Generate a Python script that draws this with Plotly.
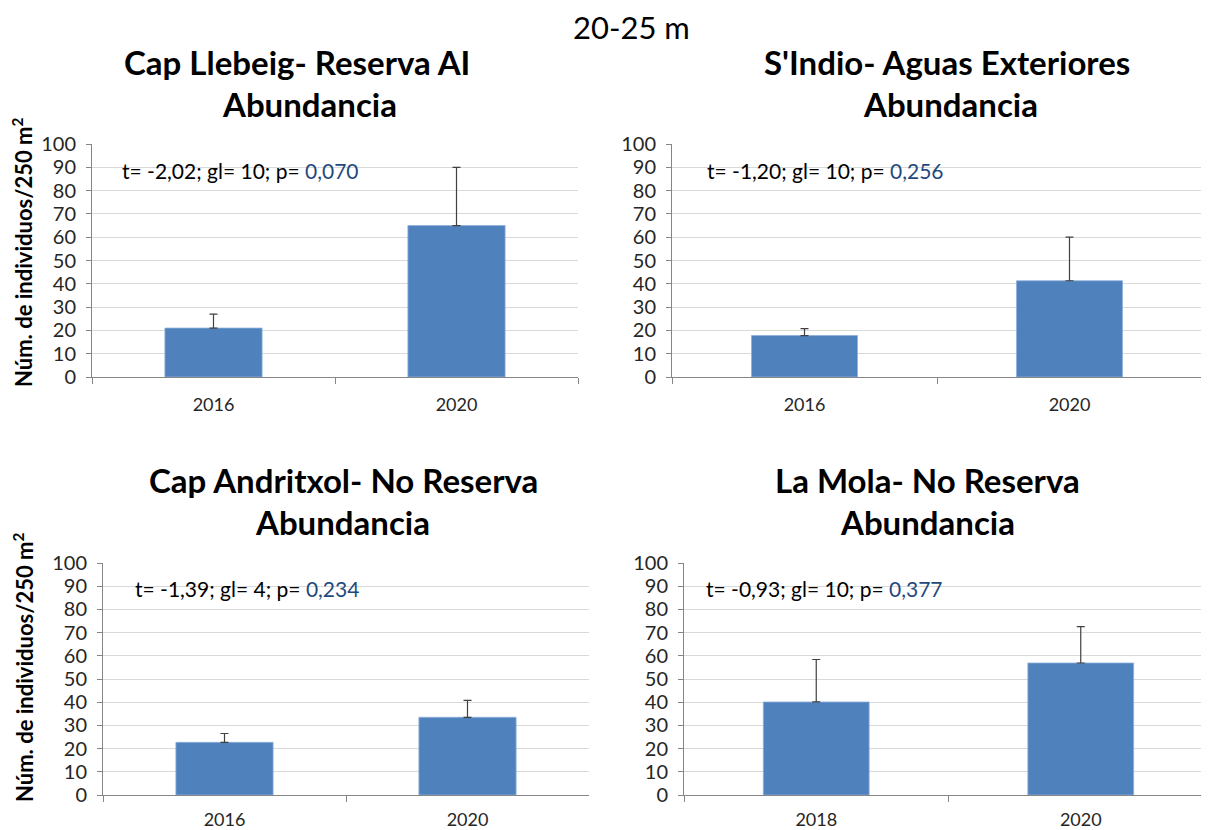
"""
Abundancia 20-25 m: cuatro paneles de barras con error (2016/2018 vs 2020)
"""

import plotly.graph_objects as go
from plotly.subplots import make_subplots

# Datos
sites = ["Cap Llebeig- Reserva AI", "S'Indio- Aguas Exteriores",
         "Cap Andritxol- No Reserva", "La Mola- No Reserva"]
years = [["2016", "2020"], ["2016", "2020"], ["2016", "2020"], ["2018", "2020"]]
means = [[21.0, 65.0], [17.8, 41.3], [22.7, 33.5], [40.1, 56.9]]
errors = [[6.0, 25.0], [3.0, 18.7], [3.8, 7.3], [18.3, 15.7]]
t_vals = ["-2,02", "-1,20", "-1,39", "-0,93"]
gl_vals = ["10", "10", "4", "10"]
p_vals = ["0,070", "0,256", "0,234", "0,377"]

W, H = 1209, 830
OFF = 8  # margen del body de la página html
FONT = "Lato, sans-serif"
BAR = "#4F81BD"
PBLUE = "#1F497D"


def px(x):
    return (x - OFF) / W


def py(y):
    return 1 - (y - OFF) / H


# posiciones en píxeles de pantalla (izq, der, arriba(100), abajo(0))
boxes = [(92, 578, 144, 377), (672, 1202, 144, 377),
         (103, 589, 563, 795), (684, 1213, 563, 795)]
# (x línea 1, y línea 1, x línea 2, y línea 2)
title_pos = [(297, 62, 309, 104), (947, 62, 950, 104),
             (343, 480, 342, 522), (927, 480, 927, 522)]
stat_x = [120, 705, 133, 704]
xlab_standoff = [11, 11, 8, 8]
ylab_y = [252, 667]

fig = make_subplots(rows=2, cols=2)

for i in range(4):
    r, c = i // 2 + 1, i % 2 + 1
    fig.add_trace(go.Bar(
        x=years[i], y=means[i], width=0.4,
        marker=dict(color=BAR, line=dict(color="#8DB0DA", width=0.8)),
        error_y=dict(type="data", symmetric=False, array=errors[i],
                     arrayminus=[0, 0], color="#404040", thickness=1.2, width=4),
        showlegend=False,
    ), row=r, col=c)

    x0, x1, yt, yb = boxes[i]
    ax = "xaxis" if i == 0 else f"xaxis{i + 1}"
    ay = "yaxis" if i == 0 else f"yaxis{i + 1}"
    fig.layout[ax].update(
        domain=[px(x0), min(px(x1), 1)], range=[-0.5, 1.5], type="category",
        showline=True, linecolor="#868686", linewidth=1,
        ticks="outside", tickson="boundaries", ticklen=6, tickcolor="#868686",
        showgrid=False, tickfont=dict(family=FONT, size=18, color="#262626"),
        ticklabelstandoff=xlab_standoff[i],
    )
    fig.layout[ay].update(
        domain=[py(yb), py(yt)], range=[0, 100], dtick=10,
        showline=True, linecolor="#868686", linewidth=1,
        ticks="outside", ticklen=5, tickcolor="#868686",
        showgrid=True, gridcolor="#D9D9D9", gridwidth=1, zeroline=False,
        tickfont=dict(family=FONT, size=20, color="#262626"),
        ticklabelstandoff=6,
    )

    # título de cada panel (dos líneas)
    tx1, ty1, tx2, ty2 = title_pos[i]
    for txt, tx, ty in ((sites[i], tx1, ty1), ("Abundancia", tx2, ty2)):
        fig.add_annotation(
            x=px(tx), y=py(ty), xref="paper", yref="paper",
            text=f"<b>{txt}</b>", showarrow=False,
            font=dict(family=FONT, size=33, color="black"),
            xanchor="center", yanchor="middle",
        )

    # estadístico de la prueba t
    fig.add_annotation(
        x=px(stat_x[i]), y=88.8, xref="paper", yref="y" if i == 0 else f"y{i + 1}",
        text=f"t= {t_vals[i]}; gl= {gl_vals[i]}; p= <span style='color:{PBLUE}'>{p_vals[i]}</span>",
        showarrow=False, font=dict(family=FONT, size=21, color="black"),
        xanchor="left", yanchor="middle",
    )

# etiquetas del eje Y (solo columna izquierda)
for yy in ylab_y:
    fig.add_annotation(
        x=px(23), y=py(yy), xref="paper", yref="paper",
        text="<b>Núm. de individuos/250 m<sup>2</sup></b>", textangle=-90,
        showarrow=False, font=dict(family=FONT, size=22, color="black"),
        xanchor="center", yanchor="middle",
    )

# título general
fig.add_annotation(
    x=px(631), y=py(27), xref="paper", yref="paper",
    text="20-25 m", showarrow=False,
    font=dict(family=FONT, size=31, color="black"),
    xanchor="center", yanchor="middle",
)

fig.update_layout(
    template="none",
    width=W, height=H,
    margin=dict(l=0, r=0, t=0, b=0),
    paper_bgcolor="white", plot_bgcolor="white",
    font=dict(family=FONT),
)

fig.write_html("out.html")
